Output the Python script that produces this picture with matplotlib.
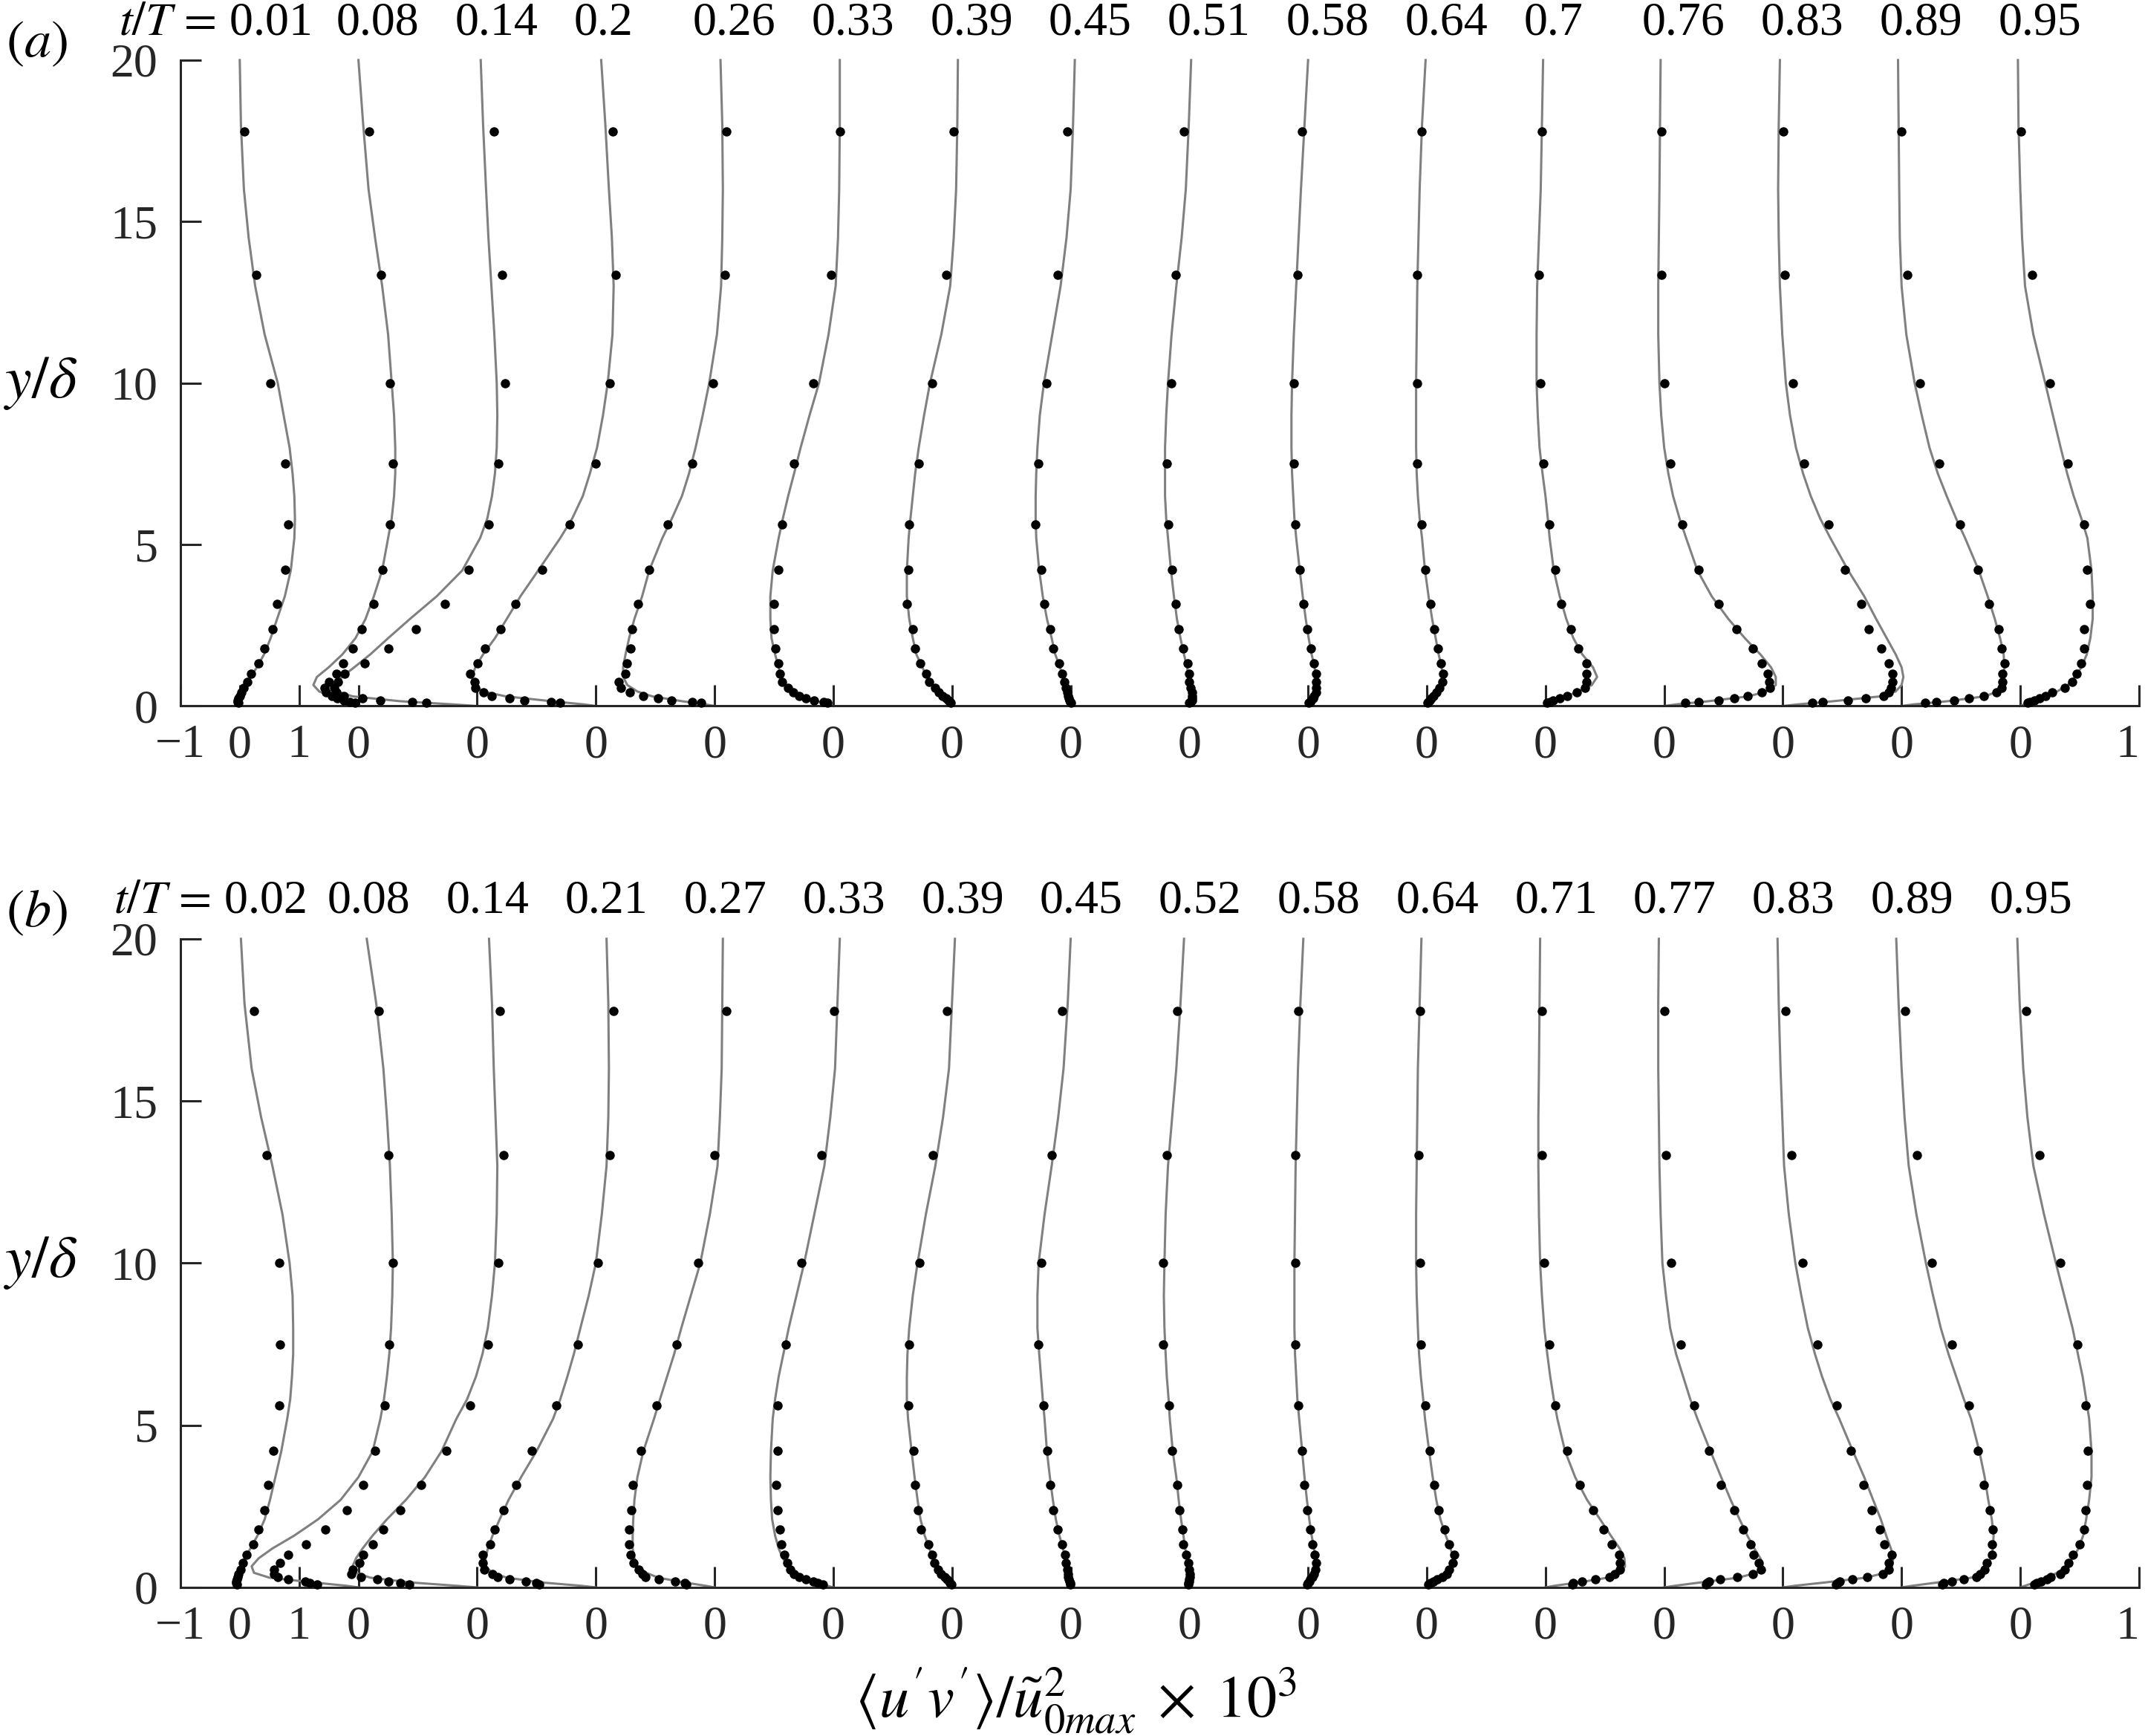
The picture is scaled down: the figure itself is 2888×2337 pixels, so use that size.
import matplotlib.pyplot as plt

plt.rcParams['font.family'] = 'Liberation Serif'
plt.rcParams['mathtext.fontset'] = 'stix'

# wall-normal positions of the measured points and of the simulation curve
y_dots = [17.78, 13.34, 10.0, 7.5, 5.62, 4.22, 3.16, 2.37, 1.78, 1.33, 1.0,
          0.75, 0.56, 0.42, 0.32, 0.24, 0.18, 0.13, 0.1]
y_line = [20, 18, 16, 14.5, 13, 11.5, 10, 9, 8, 7.2, 6.5, 5.8, 5.2, 4.2, 3.4,
          2.7, 2.1, 1.6, 1.2, 0.9, 0.65, 0.45, 0.3, 0.15, 0.05, 0]

times_a = ['0.01', '0.08', '0.14', '0.2', '0.26', '0.33', '0.39', '0.45',
           '0.51', '0.58', '0.64', '0.7', '0.76', '0.83', '0.89', '0.95']
times_b = ['0.02', '0.08', '0.14', '0.21', '0.27', '0.33', '0.39', '0.45',
           '0.52', '0.58', '0.64', '0.71', '0.77', '0.83', '0.89', '0.95']

# panel (a): measurements (dots) and simulation (line), one list per phase
dots_a = [
    [0.08, 0.28, 0.52, 0.76, 0.82, 0.76, 0.63, 0.55, 0.42, 0.32, 0.19, 0.13, 0.07, 0.03, 0.0, -0.02, -0.03, -0.03, -0.02],
    [0.18, 0.38, 0.53, 0.58, 0.53, 0.4, 0.26, 0.06, -0.1, -0.26, -0.37, -0.49, -0.57, -0.55, -0.45, -0.36, -0.25, -0.15, -0.06],
    [0.28, 0.42, 0.47, 0.36, 0.2, -0.14, -0.54, -1.03, -1.5, -1.89, -2.23, -2.34, -2.41, -2.37, -2.24, -1.93, -1.63, -1.09, -0.86],
    [0.29, 0.33, 0.24, 0.0, -0.44, -0.9, -1.35, -1.6, -1.87, -1.99, -2.12, -2.04, -2.03, -1.89, -1.76, -1.45, -1.21, -0.76, -0.61],
    [0.2, 0.17, -0.03, -0.38, -0.79, -1.1, -1.29, -1.39, -1.41, -1.48, -1.5, -1.62, -1.58, -1.43, -1.2, -0.95, -0.73, -0.38, -0.22],
    [0.12, -0.03, -0.34, -0.66, -0.86, -0.92, -1.0, -1.0, -0.98, -0.92, -0.9, -0.86, -0.76, -0.68, -0.58, -0.46, -0.32, -0.16, -0.1],
    [0.03, -0.1, -0.33, -0.56, -0.72, -0.74, -0.76, -0.66, -0.62, -0.54, -0.44, -0.38, -0.28, -0.22, -0.16, -0.1, -0.06, -0.04, -0.02],
    [-0.06, -0.22, -0.41, -0.55, -0.59, -0.5, -0.45, -0.34, -0.3, -0.19, -0.15, -0.11, -0.08, -0.06, -0.04, -0.03, -0.02, -0.01, 0.0],
    [-0.09, -0.23, -0.31, -0.38, -0.35, -0.29, -0.23, -0.18, -0.11, -0.03, -0.01, 0.0, 0.02, 0.04, 0.05, 0.05, 0.04, 0.02, 0.0],
    [-0.1, -0.18, -0.24, -0.24, -0.22, -0.14, -0.08, -0.02, 0.05, 0.1, 0.13, 0.14, 0.14, 0.13, 0.1, 0.08, 0.05, 0.03, 0.01],
    [-0.09, -0.16, -0.16, -0.16, -0.09, -0.02, 0.06, 0.13, 0.19, 0.24, 0.27, 0.26, 0.21, 0.16, 0.11, 0.08, 0.05, 0.03, 0.01],
    [-0.06, -0.11, -0.09, -0.04, 0.06, 0.16, 0.27, 0.43, 0.55, 0.69, 0.69, 0.69, 0.66, 0.53, 0.37, 0.24, 0.13, 0.08, 0.03],
    [-0.04, -0.04, 0.01, 0.11, 0.31, 0.58, 0.92, 1.22, 1.49, 1.65, 1.75, 1.77, 1.78, 1.65, 1.41, 1.18, 0.92, 0.58, 0.36],
    [0.01, 0.03, 0.17, 0.36, 0.77, 1.05, 1.32, 1.44, 1.66, 1.78, 1.85, 1.85, 1.82, 1.78, 1.7, 1.4, 1.1, 0.67, 0.49],
    [0.0, 0.1, 0.31, 0.63, 0.99, 1.29, 1.47, 1.64, 1.68, 1.74, 1.7, 1.7, 1.69, 1.6, 1.39, 1.13, 0.88, 0.59, 0.4],
    [0.01, 0.2, 0.5, 0.8, 1.07, 1.12, 1.17, 1.07, 1.07, 1.03, 0.95, 0.87, 0.75, 0.54, 0.43, 0.32, 0.24, 0.16, 0.12],
]
line_a = [
    [0.0, 0.02, 0.07, 0.15, 0.26, 0.42, 0.64, 0.74, 0.84, 0.89, 0.92, 0.93, 0.92, 0.86, 0.76, 0.63, 0.52, 0.41, 0.29, 0.18, 0.09, 0.03, 0.0, -0.02, -0.01, 0.0],
    [0.0, 0.08, 0.17, 0.28, 0.4, 0.5, 0.56, 0.6, 0.62, 0.62, 0.6, 0.56, 0.5, 0.4, 0.26, 0.12, -0.05, -0.27, -0.5, -0.7, -0.76, -0.66, -0.45, -0.2, -0.05, 0.0],
    [0.06, 0.1, 0.15, 0.19, 0.24, 0.29, 0.33, 0.34, 0.33, 0.3, 0.25, 0.17, 0.05, -0.25, -0.68, -1.13, -1.5, -1.8, -2.07, -2.28, -2.38, -2.35, -2.1, -1.3, -0.4, 0.0],
    [0.09, 0.16, 0.22, 0.27, 0.3, 0.28, 0.2, 0.12, 0.02, -0.1, -0.22, -0.4, -0.6, -0.97, -1.27, -1.5, -1.7, -1.9, -2.03, -2.09, -2.05, -1.9, -1.52, -0.75, -0.2, 0.0],
    [0.1, 0.13, 0.14, 0.13, 0.11, 0.04, -0.09, -0.2, -0.32, -0.43, -0.55, -0.72, -0.88, -1.1, -1.22, -1.35, -1.44, -1.5, -1.54, -1.54, -1.47, -1.3, -1.05, -0.55, -0.15, 0.0],
    [0.11, 0.11, 0.1, 0.08, 0.04, -0.08, -0.24, -0.4, -0.55, -0.66, -0.76, -0.85, -0.92, -1.02, -1.06, -1.06, -1.04, -0.98, -0.92, -0.88, -0.82, -0.7, -0.55, -0.28, -0.08, 0.0],
    [0.1, 0.09, 0.07, 0.03, -0.03, -0.18, -0.37, -0.47, -0.56, -0.62, -0.66, -0.7, -0.73, -0.76, -0.76, -0.72, -0.66, -0.6, -0.5, -0.42, -0.34, -0.24, -0.15, -0.06, -0.02, 0.0],
    [0.07, 0.04, 0.0, -0.07, -0.17, -0.31, -0.45, -0.52, -0.56, -0.58, -0.59, -0.59, -0.58, -0.53, -0.47, -0.4, -0.32, -0.26, -0.18, -0.13, -0.1, -0.07, -0.05, -0.02, -0.01, 0.0],
    [0.03, -0.01, -0.06, -0.13, -0.22, -0.3, -0.36, -0.39, -0.41, -0.41, -0.41, -0.39, -0.36, -0.31, -0.26, -0.21, -0.15, -0.09, -0.04, -0.01, 0.01, 0.03, 0.04, 0.03, 0.01, 0.0],
    [0.0, -0.06, -0.12, -0.16, -0.2, -0.24, -0.27, -0.28, -0.28, -0.27, -0.25, -0.23, -0.2, -0.14, -0.09, -0.04, 0.01, 0.06, 0.11, 0.13, 0.14, 0.13, 0.1, 0.05, 0.02, 0.0],
    [-0.02, -0.08, -0.12, -0.14, -0.16, -0.17, -0.18, -0.18, -0.18, -0.17, -0.15, -0.12, -0.08, -0.03, 0.03, 0.09, 0.15, 0.2, 0.25, 0.27, 0.25, 0.18, 0.11, 0.05, 0.02, 0.0],
    [-0.04, -0.06, -0.08, -0.11, -0.14, -0.15, -0.15, -0.13, -0.1, -0.05, 0.0, 0.04, 0.07, 0.14, 0.24, 0.35, 0.47, 0.62, 0.8, 0.87, 0.78, 0.55, 0.35, 0.15, 0.04, 0.0],
    [-0.06, -0.07, -0.08, -0.09, -0.1, -0.1, -0.08, -0.05, 0.0, 0.07, 0.15, 0.26, 0.37, 0.56, 0.8, 1.08, 1.36, 1.62, 1.8, 1.88, 1.88, 1.72, 1.42, 0.75, 0.2, 0.0],
    [-0.05, -0.07, -0.08, -0.07, -0.05, -0.01, 0.05, 0.12, 0.22, 0.34, 0.47, 0.63, 0.8, 1.1, 1.37, 1.57, 1.75, 1.9, 2.0, 2.03, 2.0, 1.9, 1.65, 0.85, 0.25, 0.0],
    [-0.06, -0.05, -0.04, -0.03, 0.0, 0.08, 0.22, 0.34, 0.47, 0.61, 0.76, 0.92, 1.07, 1.3, 1.45, 1.57, 1.66, 1.72, 1.73, 1.72, 1.7, 1.62, 1.4, 0.78, 0.2, 0.0],
    [-0.04, -0.03, 0.0, 0.03, 0.08, 0.22, 0.42, 0.55, 0.68, 0.79, 0.9, 1.03, 1.13, 1.2, 1.22, 1.22, 1.18, 1.12, 1.03, 0.92, 0.8, 0.62, 0.42, 0.2, 0.06, 0.0],
]

# panel (b)
dots_b = [
    [0.24, 0.45, 0.66, 0.68, 0.66, 0.57, 0.48, 0.41, 0.31, 0.23, 0.11, 0.05, 0.01, -0.02, -0.04, -0.05, -0.06, -0.06, -0.05],
    [0.34, 0.5, 0.58, 0.52, 0.44, 0.28, 0.08, -0.2, -0.56, -0.88, -1.18, -1.32, -1.42, -1.42, -1.36, -1.18, -0.9, -0.82, -0.7],
    [0.38, 0.44, 0.36, 0.18, -0.12, -0.52, -0.94, -1.3, -1.58, -1.76, -1.92, -1.98, -2.1, -2.12, -1.96, -1.68, -1.5, -1.3, -1.15],
    [0.3, 0.24, 0.04, -0.3, -0.67, -1.08, -1.34, -1.56, -1.7, -1.78, -1.9, -1.9, -1.88, -1.74, -1.66, -1.46, -1.18, -1.0, -0.96],
    [0.2, 0.0, -0.28, -0.64, -0.98, -1.24, -1.38, -1.4, -1.44, -1.44, -1.42, -1.36, -1.28, -1.22, -1.16, -0.94, -0.66, -0.5, -0.48],
    [0.02, -0.2, -0.54, -0.8, -0.94, -0.94, -0.96, -0.94, -0.9, -0.88, -0.82, -0.78, -0.72, -0.66, -0.58, -0.46, -0.34, -0.26, -0.18],
    [-0.08, -0.32, -0.55, -0.72, -0.73, -0.65, -0.62, -0.57, -0.52, -0.4, -0.34, -0.3, -0.24, -0.18, -0.12, -0.08, -0.05, -0.03, -0.01],
    [-0.14, -0.32, -0.5, -0.54, -0.46, -0.4, -0.34, -0.3, -0.22, -0.15, -0.1, -0.08, -0.06, -0.05, -0.04, -0.03, -0.02, -0.01, -0.01],
    [-0.21, -0.38, -0.44, -0.44, -0.34, -0.29, -0.21, -0.17, -0.12, -0.1, -0.05, -0.02, -0.01, 0.01, 0.01, 0.0, -0.01, -0.02, -0.02],
    [-0.17, -0.21, -0.21, -0.22, -0.17, -0.1, -0.06, -0.02, 0.04, 0.07, 0.11, 0.13, 0.12, 0.1, 0.07, 0.04, 0.02, 0.0, -0.01],
    [-0.11, -0.14, -0.11, -0.1, -0.03, 0.05, 0.12, 0.2, 0.3, 0.38, 0.46, 0.44, 0.38, 0.34, 0.26, 0.18, 0.11, 0.06, 0.02],
    [-0.06, -0.06, -0.02, 0.06, 0.17, 0.36, 0.58, 0.8, 0.98, 1.12, 1.24, 1.26, 1.26, 1.17, 1.08, 0.84, 0.61, 0.47, 0.45],
    [0.0, 0.03, 0.12, 0.28, 0.5, 0.76, 0.96, 1.18, 1.33, 1.45, 1.51, 1.6, 1.63, 1.49, 1.23, 0.94, 0.76, 0.72, 0.7],
    [0.05, 0.14, 0.33, 0.58, 0.91, 1.14, 1.36, 1.5, 1.63, 1.71, 1.83, 1.79, 1.79, 1.68, 1.42, 1.17, 0.96, 0.92, 0.9],
    [0.06, 0.26, 0.51, 0.85, 1.13, 1.29, 1.39, 1.48, 1.54, 1.52, 1.52, 1.44, 1.4, 1.32, 1.26, 1.05, 0.85, 0.71, 0.68],
    [0.1, 0.32, 0.67, 0.96, 1.1, 1.14, 1.13, 1.1, 1.08, 1.0, 0.89, 0.81, 0.75, 0.67, 0.51, 0.45, 0.35, 0.28, 0.24],
]
line_b = [
    [0.02, 0.08, 0.2, 0.36, 0.55, 0.72, 0.84, 0.89, 0.9, 0.9, 0.88, 0.85, 0.8, 0.7, 0.6, 0.51, 0.42, 0.3, 0.18, 0.08, 0.03, 0.0, -0.02, -0.02, -0.01, 0.0],
    [0.14, 0.3, 0.42, 0.48, 0.53, 0.56, 0.58, 0.57, 0.55, 0.52, 0.48, 0.43, 0.37, 0.24, 0.0, -0.3, -0.68, -1.08, -1.45, -1.68, -1.8, -1.76, -1.5, -0.75, -0.2, 0.0],
    [0.2, 0.25, 0.28, 0.31, 0.34, 0.33, 0.3, 0.25, 0.18, 0.09, -0.02, -0.17, -0.35, -0.6, -0.88, -1.2, -1.52, -1.76, -1.93, -2.04, -2.1, -2.05, -1.8, -1.1, -0.35, 0.0],
    [0.18, 0.21, 0.22, 0.21, 0.18, 0.1, 0.0, -0.12, -0.26, -0.37, -0.48, -0.6, -0.72, -1.0, -1.26, -1.47, -1.62, -1.74, -1.82, -1.86, -1.85, -1.75, -1.5, -0.9, -0.25, 0.0],
    [0.14, 0.13, 0.12, 0.09, 0.05, -0.08, -0.24, -0.4, -0.56, -0.68, -0.8, -0.92, -1.02, -1.2, -1.3, -1.35, -1.37, -1.38, -1.38, -1.35, -1.3, -1.15, -0.95, -0.5, -0.15, 0.0],
    [0.11, 0.07, 0.03, -0.05, -0.15, -0.32, -0.49, -0.62, -0.75, -0.84, -0.92, -0.98, -1.02, -1.05, -1.06, -1.05, -1.03, -0.98, -0.92, -0.85, -0.77, -0.66, -0.52, -0.28, -0.1, 0.0],
    [0.05, 0.0, -0.05, -0.15, -0.28, -0.44, -0.58, -0.66, -0.72, -0.75, -0.76, -0.76, -0.74, -0.68, -0.63, -0.58, -0.53, -0.46, -0.38, -0.32, -0.26, -0.19, -0.12, -0.05, -0.02, 0.0],
    [0.0, -0.05, -0.12, -0.21, -0.32, -0.44, -0.54, -0.56, -0.56, -0.53, -0.5, -0.47, -0.44, -0.4, -0.35, -0.3, -0.25, -0.19, -0.13, -0.09, -0.06, -0.04, -0.03, -0.01, 0.0, 0.0],
    [-0.09, -0.15, -0.22, -0.29, -0.36, -0.4, -0.42, -0.43, -0.42, -0.4, -0.38, -0.35, -0.33, -0.28, -0.22, -0.18, -0.14, -0.1, -0.07, -0.04, -0.02, 0.0, 0.01, 0.0, 0.0, 0.0],
    [-0.08, -0.13, -0.17, -0.19, -0.21, -0.22, -0.23, -0.23, -0.23, -0.22, -0.2, -0.18, -0.15, -0.1, -0.06, -0.02, 0.02, 0.06, 0.1, 0.12, 0.13, 0.11, 0.07, 0.03, 0.01, 0.0],
    [-0.09, -0.12, -0.15, -0.16, -0.17, -0.18, -0.18, -0.17, -0.15, -0.13, -0.1, -0.06, -0.03, 0.04, 0.1, 0.16, 0.23, 0.32, 0.4, 0.45, 0.42, 0.34, 0.24, 0.11, 0.03, 0.0],
    [-0.09, -0.1, -0.11, -0.12, -0.12, -0.11, -0.09, -0.06, -0.02, 0.03, 0.08, 0.14, 0.2, 0.33, 0.5, 0.7, 0.92, 1.1, 1.25, 1.33, 1.34, 1.28, 1.05, 0.55, 0.15, 0.0],
    [-0.09, -0.1, -0.1, -0.09, -0.08, -0.06, -0.03, 0.03, 0.1, 0.2, 0.32, 0.44, 0.56, 0.78, 0.96, 1.12, 1.27, 1.4, 1.52, 1.62, 1.66, 1.55, 1.25, 0.6, 0.18, 0.0],
    [-0.09, -0.07, -0.04, -0.01, 0.02, 0.1, 0.21, 0.31, 0.42, 0.54, 0.66, 0.8, 0.95, 1.18, 1.37, 1.52, 1.65, 1.74, 1.82, 1.86, 1.84, 1.72, 1.4, 0.7, 0.2, 0.0],
    [-0.09, -0.05, 0.0, 0.05, 0.12, 0.25, 0.41, 0.53, 0.66, 0.79, 0.92, 1.05, 1.17, 1.31, 1.4, 1.46, 1.52, 1.55, 1.54, 1.5, 1.44, 1.36, 1.18, 0.6, 0.18, 0.0],
    [-0.05, -0.01, 0.05, 0.12, 0.22, 0.4, 0.6, 0.74, 0.88, 0.97, 1.05, 1.11, 1.16, 1.2, 1.2, 1.16, 1.11, 1.06, 0.98, 0.88, 0.78, 0.62, 0.45, 0.24, 0.08, 0.0],
]

xticks = [-1, 0, 1] + list(range(2, 31, 2)) + [32]
xticklabels = ['\u22121', '0', '1'] + ['0'] * 15 + ['1']

dark = '#262626'
fig = plt.figure(figsize=(28.88, 23.37), dpi=100)

panels = [
    ('a', times_a, dots_a, line_a, 0.5933, 0.3721, -0.37, 1.2, 0.9743),
    ('b', times_b, dots_b, line_b, 0.0856, 0.3736, -0.52, 1.12, 0.4737),
]
for tag, times, dots, line, bottom, height, lab_off, first_right, tag_y in panels:
    ax = fig.add_axes([0.0841, bottom, 0.9131, height])
    for k in range(16):
        x0 = 2 * k
        ax.plot([x0 + v for v in line[k]], y_line, color='#808080', lw=2.2,
                zorder=2, clip_on=False)
        ax.plot([x0 + v for v in dots[k]], y_dots, 'o', color='k', ms=9,
                mew=0, zorder=3, clip_on=False)
        if k == 0:
            ax.text(first_right, 20.8, r'$t/T\,=\,$' + times[k], ha='right',
                    va='baseline', fontsize=46)
        else:
            ax.text(x0 + lab_off, 20.8, times[k], ha='left', va='baseline',
                    fontsize=46)

    ax.set_xlim(-1, 32)
    ax.set_ylim(0, 20)
    ax.set_xticks(xticks)
    ax.set_xticklabels(xticklabels)
    ax.get_xticklabels()[-1].set_horizontalalignment('right')
    ax.set_yticks([0, 5, 10, 15, 20])
    for s in ['top', 'right']:
        ax.spines[s].set_visible(False)
    for s in ['left', 'bottom']:
        ax.spines[s].set_color(dark)
        ax.spines[s].set_linewidth(2.2)
    ax.tick_params(direction='in', length=20, width=2.2, colors=dark,
                   labelsize=46)
    ax.tick_params(axis='x', pad=18)
    ax.tick_params(axis='y', pad=22)

    fig.text(0.017, tag_y, r'$(%s)$' % tag, ha='center', va='center',
             fontsize=52)
    fig.text(0.019, bottom + height * 0.5, r'$y/\delta$', ha='center',
             va='center', fontsize=58)

fig.text(0.5014, 0.0201,
         r'$\langle u^{\prime}v^{\prime}\rangle/\tilde{u}^{2}_{0max}\;\times\;10^{3}$',
         ha='center', va='center', fontsize=58)

fig.savefig('out.png', dpi=100)
